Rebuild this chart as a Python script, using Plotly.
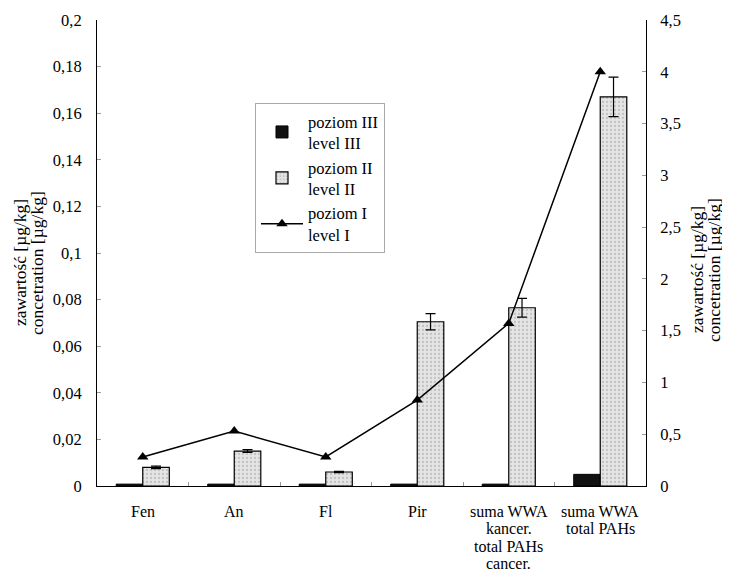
import plotly.graph_objects as go

categories = ["Fen", "An", "Fl", "Pir", "suma WWA kancer.", "suma WWA total PAHs"]
category_label_lines = [["Fen"], ["An"], ["Fl"], ["Pir"],
                        ["suma WWA", "kancer.", "total PAHs", "cancer."],
                        ["suma WWA", "total PAHs"]]
level3 = [0.0008, 0.0008, 0.0008, 0.0008, 0.0008, 0.005]
level2 = [0.008, 0.015, 0.006, 0.0705, 0.0765, 0.167]
level2_err = [0.0005, 0.0006, 0.0003, 0.0035, 0.004, 0.0085]
level1 = [0.28, 0.53, 0.28, 0.83, 1.57, 4.0]

left_ticks = [0, 0.02, 0.04, 0.06, 0.08, 0.1, 0.12, 0.14, 0.16, 0.18, 0.2]
right_ticks = [0, 0.5, 1, 1.5, 2, 2.5, 3, 3.5, 4, 4.5]

title_line1 = "zawartość [µg/kg]"
title_line2 = "concetration [µg/kg]"

font_family = "Liberation Serif, Times New Roman, serif"

# page has an 8px body margin; screen-space plot box
OFF = 8
PL, PR, PT, PB = 97, 646, 20, 486
W, H = 730 - OFF, 571 - OFF


def px_to_paper(sx, sy):
    return (sx - PL) / (PR - PL), (PB - sy) / (PB - PT)


fig = go.Figure()
fig.add_trace(go.Bar(
    x=categories, y=level3, name="poziom III<br>level III",
    marker=dict(color="#111111", line=dict(color="black", width=1)),
))
fig.add_trace(go.Bar(
    x=categories, y=level2, name="poziom II<br>level II",
    marker=dict(color="#dcdcdc", line=dict(color="black", width=1.2),
                pattern=dict(shape=".", fgcolor="#a0a0a0", bgcolor="#e4e4e4", size=4, solidity=0.25)),
    error_y=dict(type="data", array=level2_err, color="black", thickness=1.2, width=5),
))
fig.add_trace(go.Scatter(
    x=categories, y=level1, name="poziom I<br>level I", yaxis="y2",
    mode="lines+markers",
    line=dict(color="black", width=1.5),
    marker=dict(symbol="triangle-up", size=10, color="black"),
))

annotations = []
# axis titles (two lines each, rotated)
for sx, sy, txt in [(20, 263, title_line1), (37, 263, title_line2),
                    (697, 270, title_line1), (714, 270, title_line2)]:
    x, y = px_to_paper(sx, sy)
    annotations.append(dict(
        x=x, y=y, xref="paper", yref="paper",
        text=txt, textangle=-90, showarrow=False,
        xanchor="center", yanchor="middle",
        font=dict(family=font_family, size=17.5, color="black"),
    ))
# category labels, one line at a time, placed at the category position
for cat, lines in zip(categories, category_label_lines):
    for i, line in enumerate(lines):
        _, y = px_to_paper(0, 511 + i * 17.5)
        annotations.append(dict(
            x=cat, y=y, xref="x", yref="paper",
            text=line, showarrow=False,
            xanchor="center", yanchor="middle",
            font=dict(family=font_family, size=16, color="black"),
        ))

lx, ly = px_to_paper(255, 103)

fig.update_layout(
    width=W, height=H,
    margin=dict(l=PL - OFF, r=W - (PR - OFF), t=PT - OFF, b=H - (PB - OFF), autoexpand=False),
    paper_bgcolor="white", plot_bgcolor="white",
    separators=", ",
    font=dict(family=font_family, size=16, color="black"),
    barmode="group", bargap=0.42, bargroupgap=0,
    showlegend=True,
    annotations=annotations,
    legend=dict(
        x=lx, y=ly, xanchor="left", yanchor="top",
        bgcolor="white", bordercolor="#aaaaaa", borderwidth=1,
        font=dict(family=font_family, size=16.5, color="black"),
        tracegroupgap=0, itemwidth=42,
    ),
    xaxis=dict(
        automargin=False, showticklabels=False,
        showline=True, linecolor="black", linewidth=1,
        ticks="inside", tickson="boundaries", ticklen=4, tickcolor="#999999",
        showgrid=False,
    ),
    yaxis=dict(
        automargin=False,
        range=[0, 0.2], tickvals=left_ticks,
        showline=True, linecolor="black", linewidth=1,
        ticks="inside", ticklen=4, tickcolor="#999999", showgrid=False, zeroline=False,
        tickfont=dict(size=16.5), ticklabelstandoff=11,
    ),
    yaxis2=dict(
        automargin=False,
        range=[0, 4.5], tickvals=right_ticks, overlaying="y", side="right",
        showline=True, linecolor="black", linewidth=1,
        ticks="inside", ticklen=4, tickcolor="#999999", showgrid=False, zeroline=False,
        tickfont=dict(size=16.5), ticklabelstandoff=10,
    ),
)

fig.write_html("out.html")
